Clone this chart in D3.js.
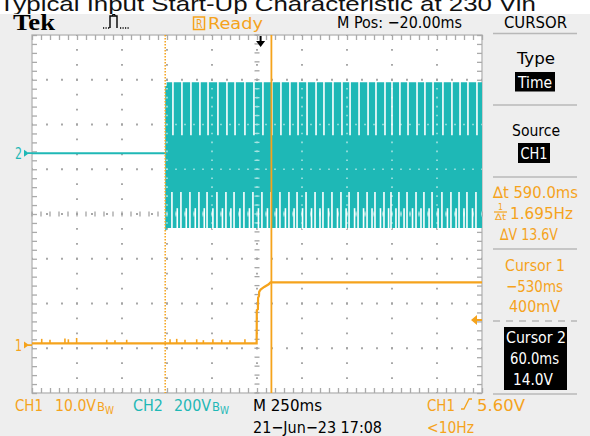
<!DOCTYPE html>
<html>
<head>
<meta charset="utf-8">
<script src="https://cdn.jsdelivr.net/npm/d3@7"></script>
<style>
  body { margin: 0; background: #fff; }
  svg { display: block; }
</style>
</head>
<body>
<svg id="chart"></svg>
<script>
const width = 590, height = 436;
const plot = {left: 32, right: 482, top: 35, bottom: 393};

// horizontal: M 250ms/div, M Pos -20ms -> screen spans -1270..1230 ms
const timeRange = [-1270, 1230];
const ch1PosDiv = -2.93;   // CH1 ground marker, divisions from centre
const ch2PosDiv = 1.36;    // CH2 ground marker
const ch1VoltsPerDiv = 10;
const ch2VoltsPerDiv = 200;

// CH1 (output), volts
const ch1Time = [-1270, -22, -21, -15, -14, -9, -8, 0, 20, 45, 55, 1230];
const ch1Volt = [0.4, 0.4, 7.8, 8.0, 10.6, 11.0, 11.9, 12.4, 13.0, 13.6, 14.0, 14.0];
const ch1GlitchTime = [-1216, -1170, -1087, -1068, -1022, -855, -809, -744, -503, -466, -420, -355, -318, -265, -216, -170, -87];
const ch1GlitchVolt = [1.0, 0.8, 1.1, 0.9, 1.2, 0.8, 0.7, 0.8, 0.9, 1.0, 0.8, 0.9, 0.7, 0.9, 0.8, 0.7, 0.9];

// CH2 (input AC), volts
const ch2IdleTime = [-1270, -530];
const ch2IdleVolt = [0, 0];
const ch2EnvTime = [-530, -522, 1230];
const ch2EnvTop = [300, 317, 317];
const ch2EnvBottom = [-345, -335, -335];
const ch2GapTime = [-487, -437, -387, -337, -292, -237, -187, -142, -87, -37, 13, 63, 113, 163, 208, 258,
  308, 352, 402, 452, 497, 547, 597, 641, 691, 730, 774, 819, 869, 913, 958, 1013, 1063, 1108, 1152, 1202];
const ch2GapShortTime = [-463, -413, -363, -313, -265, -212, -165, -115, -62, -12, 38, 88, 138, 186, 233, 283,
  330, 377, 427, 475, 522, 572, 619, 666, 711, 752, 797, 844, 891, 936, 986, 1038, 1086, 1130, 1177];
const ch2GapUpperEnd = 80;
const ch2GapLowerStart = -174;
const ch2GapShortStart = -246;

// cursors and trigger
const cursor1Time = -530;
const cursor2Time = 60;
const triggerTime = 0;
const triggerLevel = 5.6;

const orange = "#f5a31c";
const teal = "#1fb8b6";
const panelGrey = "#eeeeee";
const font = "'Liberation Sans Narrow', 'DejaVu Sans Condensed', 'Arial Narrow', sans-serif";

const svg = d3.select("#chart")
    .attr("width", width)
    .attr("height", height)
    .attr("viewBox", [0, 0, width, height]);

const x = d3.scaleLinear().domain(timeRange).range([plot.left, plot.right]);
const gx = d3.scaleLinear().domain([-5, 5]).range([plot.left, plot.right]);
const gy = d3.scaleLinear().domain([-4, 4]).range([plot.bottom, plot.top]);
const y1 = d3.scaleLinear()
    .domain([(-4 - ch1PosDiv) * ch1VoltsPerDiv, (4 - ch1PosDiv) * ch1VoltsPerDiv])
    .range([plot.bottom, plot.top]);
const y2 = d3.scaleLinear()
    .domain([(-4 - ch2PosDiv) * ch2VoltsPerDiv, (4 - ch2PosDiv) * ch2VoltsPerDiv])
    .range([plot.bottom, plot.top]);

// background panel
svg.append("rect").attr("width", width).attr("height", height).attr("fill", "#fff");
svg.append("rect").attr("y", 14).attr("width", width).attr("height", height - 14).attr("fill", panelGrey);

// screen
svg.append("rect")
    .attr("x", plot.left).attr("y", plot.top)
    .attr("width", plot.right - plot.left).attr("height", plot.bottom - plot.top)
    .attr("fill", "#fff").attr("stroke", "#bdbdbd").attr("stroke-width", 1.5);

const fifthsX = d3.range(-25, 26).map(i => i / 5);
const fifthsY = d3.range(-20, 21).map(i => i / 5);

function drawGrid(layer, color, opacity, stepX, stepY, dot) {
  const g = svg.append("g").attr("class", layer).attr("opacity", opacity);
  g.selectAll("line.v").data(d3.range(-4, 5)).join("line")
      .attr("x1", d => gx(d)).attr("x2", d => gx(d))
      .attr("y1", plot.top).attr("y2", plot.bottom)
      .attr("stroke", color).attr("stroke-width", dot)
      .attr("stroke-dasharray", `${dot} ${stepY - dot}`).attr("stroke-dashoffset", dot / 2);
  g.selectAll("line.h").data(d3.range(-3, 4)).join("line")
      .attr("y1", d => gy(d)).attr("y2", d => gy(d))
      .attr("x1", plot.left).attr("x2", plot.right)
      .attr("stroke", color).attr("stroke-width", dot)
      .attr("stroke-dasharray", `${dot} ${stepX - dot}`).attr("stroke-dashoffset", dot / 2);
  // centre axes with minor ticks
  g.selectAll("line.cy").data(fifthsY).join("line")
      .attr("x1", gx(0) - 2.5).attr("x2", gx(0) + 2.5)
      .attr("y1", d => gy(d)).attr("y2", d => gy(d))
      .attr("stroke", color).attr("stroke-width", 1.3);
  g.selectAll("line.cx").data(fifthsX).join("line")
      .attr("y1", gy(0) - 2.5).attr("y2", gy(0) + 2.5)
      .attr("x1", d => gx(d)).attr("x2", d => gx(d))
      .attr("stroke", color).attr("stroke-width", 1.3);
  return g;
}

drawGrid("grid-under", "#a4a4a4", 1, 15, 44.75 / 3, 1.9);

// border ticks through axes
const tickColor = "#aaaaaa";
function borderAxis(axis, tx, ty) {
  const a = svg.append("g").attr("transform", `translate(${tx},${ty})`).call(axis);
  a.select(".domain").remove();
  a.selectAll("text").remove();
  a.selectAll("line").attr("stroke", tickColor).attr("stroke-width", 1.3);
}
borderAxis(d3.axisBottom(gx).tickValues(fifthsX).tickSize(5).tickFormat(""), 0, plot.top);
borderAxis(d3.axisTop(gx).tickValues(fifthsX).tickSize(5).tickFormat(""), 0, plot.bottom);
borderAxis(d3.axisRight(gy).tickValues(fifthsY).tickSize(5).tickFormat(""), plot.left, 0);
borderAxis(d3.axisLeft(gy).tickValues(fifthsY).tickSize(5).tickFormat(""), plot.right, 0);

// CH2 trace
const idle = ch2IdleTime.map((t, i) => [t, ch2IdleVolt[i]]);
svg.append("path")
    .attr("d", d3.line().x(d => x(d[0])).y(d => y2(d[1]))(idle))
    .attr("fill", "none").attr("stroke", teal).attr("stroke-width", 2);

const env = ch2EnvTime.map((t, i) => ({t, top: ch2EnvTop[i], bottom: ch2EnvBottom[i]}));
svg.append("path")
    .attr("d", d3.area().curve(d3.curveStepAfter)
        .x(d => x(d.t)).y0(d => y2(d.bottom)).y1(d => y2(d.top))(env))
    .attr("fill", teal);

const gaps = svg.append("g").attr("stroke", "#fff").attr("stroke-width", 1.6);
gaps.selectAll("line.up").data(ch2GapTime).join("line")
    .attr("x1", d => x(d)).attr("x2", d => x(d))
    .attr("y1", y2(ch2EnvTop[1]) - 1).attr("y2", y2(ch2GapUpperEnd));
gaps.selectAll("line.lo").data(ch2GapTime).join("line")
    .attr("x1", d => x(d) - 1).attr("x2", d => x(d) - 1)
    .attr("y1", y2(ch2GapLowerStart)).attr("y2", y2(ch2EnvBottom[1]) + 1);
gaps.selectAll("line.sh").data(ch2GapShortTime).join("line")
    .attr("x1", d => x(d)).attr("x2", d => x(d))
    .attr("y1", y2(ch2GapShortStart)).attr("y2", y2(ch2EnvBottom[1]) + 1);

// grid shows through the trace (only where the band is)
svg.append("clipPath").attr("id", "band-clip").append("rect")
    .attr("x", x(ch2EnvTime[0])).attr("y", y2(ch2EnvTop[1]))
    .attr("width", plot.right - x(ch2EnvTime[0]))
    .attr("height", y2(ch2EnvBottom[1]) - y2(ch2EnvTop[1]));
drawGrid("grid-over", "#ffffff", 0.6, 9, 44.75 / 5, 1.6).attr("clip-path", "url(#band-clip)");

// CH1 trace
const ch1 = ch1Time.map((t, i) => [t, ch1Volt[i]]);
svg.append("path")
    .attr("d", d3.line().x(d => x(d[0])).y(d => y1(d[1]))(ch1))
    .attr("fill", "none").attr("stroke", orange).attr("stroke-width", 2.2);
svg.append("g").selectAll("line").data(ch1GlitchTime).join("line")
    .attr("x1", d => x(d)).attr("x2", d => x(d))
    .attr("y1", y1(0.4)).attr("y2", (d, i) => y1(0.4 + ch1GlitchVolt[i]))
    .attr("stroke", orange).attr("stroke-width", 1.6);

// cursors
svg.append("line")
    .attr("x1", x(cursor1Time)).attr("x2", x(cursor1Time))
    .attr("y1", plot.top).attr("y2", plot.bottom)
    .attr("stroke", orange).attr("stroke-width", 1.5).attr("stroke-dasharray", "1.5 1.5");
svg.append("line")
    .attr("x1", x(cursor2Time)).attr("x2", x(cursor2Time))
    .attr("y1", plot.top).attr("y2", plot.bottom)
    .attr("stroke", orange).attr("stroke-width", 1.8);

// trigger position marker
const tx = x(triggerTime);
svg.append("path")
    .attr("d", `M${tx - 1},36 h2 v5 h3.5 l-4.5,6 l-4.5,-6 h3.5 z`)
    .attr("fill", "#000");

// trigger level marker
const ty = y1(triggerLevel);
svg.append("path")
    .attr("d", `M${plot.right - 11},${ty} l6,-5 v4 h5 v2 h-5 v4 z`)
    .attr("fill", orange);

// channel ground markers
function groundMarker(label, yPos, color) {
  svg.append("text").attr("x", 15).attr("y", yPos + 5.5).text(label)
      .attr("fill", color).attr("font-family", font).attr("font-size", 16)
      .attr("textLength", 7).attr("lengthAdjust", "spacingAndGlyphs");
  svg.append("path")
      .attr("d", `M24,${yPos - 3.5} L29,${yPos} L24,${yPos + 3.5} Z M28,${yPos - 0.8} h4 v1.6 h-4 z`)
      .attr("fill", color);
}
groundMarker("2", y2(0), teal);
groundMarker("1", y1(0), orange);

// texts
function label(s, xPos, yPos, len, color, size, extra) {
  const t = svg.append("text").attr("x", xPos).attr("y", yPos)
      .attr("fill", color).attr("font-family", font).attr("font-size", size || 16)
      .text(s);
  if (len) t.attr("textLength", len).attr("lengthAdjust", "spacingAndGlyphs");
  if (extra) extra(t);
  return t;
}

label("Typical Input Start-Up Characteristic at 230 Vin", -1, 11, 537, "#111", 21,
    t => t.attr("font-family", "'Liberation Sans', Arial, sans-serif"));

// header
svg.append("rect").attr("x", 0).attr("y", 14).attr("width", width).attr("height", 20).attr("fill", panelGrey);
label("Tek", 13, 30, 42, "#000", 23, t => t.attr("font-family", "'Liberation Serif', 'DejaVu Serif', serif").attr("font-weight", "bold"));
svg.append("path")
    .attr("d", "M103,28h1.2 M105.5,28h1.2 M108,28h1.2 M110,28 V16 H117 V28 M120,28h1.2 M122.5,28h1.2 M125,28h1.2 M127.5,28h1.2")
    .attr("fill", "none").attr("stroke", "#000").attr("stroke-width", 1.4);
svg.append("path").attr("d", "M112.5,16 v-1.5 h2.5 v1.5").attr("fill", "none").attr("stroke", "#000").attr("stroke-width", 1);
svg.append("rect").attr("x", 193.5).attr("y", 17).attr("width", 11).attr("height", 12.5)
    .attr("fill", "none").attr("stroke", orange).attr("stroke-width", 1.5);
label("R", 196, 27.5, 6.5, orange, 12);
label("Ready", 208, 29, 55, orange, 16);
label("M Pos: \u221220.00ms", 337, 28, 125, "#000", 16);
label("CURSOR", 504, 28, 63, "#000", 16);

// right menu
const sep = svg.append("g").attr("stroke", "#b8b8b8").attr("stroke-width", 1.5);
[33.5, 105, 177, 249, 394].forEach(yy =>
  sep.append("line").attr("x1", 493).attr("x2", 577).attr("y1", yy).attr("y2", yy));
sep.append("line").attr("x1", 493).attr("x2", 577).attr("y1", 321).attr("y2", 321)
    .attr("stroke-dasharray", "7 6");

label("Type", 517, 63.5, 38, "#000", 16);
svg.append("rect").attr("x", 515).attr("y", 72).attr("width", 40).attr("height", 19.5).attr("fill", "#000");
label("Time", 518, 87.5, 34, "#fff", 16);
label("Source", 512, 136, 48, "#000", 16);
svg.append("rect").attr("x", 518).attr("y", 143).attr("width", 32).attr("height", 20).attr("fill", "#000");
label("CH1", 520.5, 159, 27, "#fff", 16);

label("\u2206t 590.0ms", 493, 198, 85, orange, 16);
label("1", 498, 210, 5, orange, 9);
svg.append("line").attr("x1", 494).attr("x2", 507).attr("y1", 212).attr("y2", 212)
    .attr("stroke", orange).attr("stroke-width", 1.2);
label("\u2206t", 495, 220, 11, orange, 9);
label("1.695Hz", 510, 219, 63, orange, 16);
label("\u2206V 13.6V", 500, 240, 58, orange, 16);

label("Cursor 1", 505, 271, 60, orange, 16);
label("\u2212530ms", 506, 292, 57, orange, 16);
label("400mV", 509, 312, 51, orange, 16);

svg.append("rect").attr("x", 504).attr("y", 327).attr("width", 63).attr("height", 63).attr("fill", "#000");
label("Cursor 2", 506, 343, 60, "#fff", 16);
label("60.0ms", 510, 364, 49, "#fff", 16);
label("14.0V", 513, 385, 40, "#fff", 16);

// status line
function bwLabel(value, xPos, len, color) {
  label(value, xPos, 410.5, len, color, 16);
  label("B", xPos + len + 1, 410.5, 8, color, 13);
  label("W", xPos + len + 9, 414, 9, color, 11);
}
label("CH1", 15, 410.5, 28, orange, 16);
bwLabel("10.0V", 55, 41, orange);
label("CH2", 133, 410.5, 30, teal, 16);
bwLabel("200V", 174, 37, teal);
label("M 250ms", 253, 410.5, 69, "#000", 16);
label("21\u2212Jun\u221223 17:08", 253, 433, 129, "#000", 16);
label("CH1", 427, 410.5, 28, orange, 16);
svg.append("path").attr("d", "M461,409 h3 l5,-10 h3")
    .attr("fill", "none").attr("stroke", orange).attr("stroke-width", 1.3);
label("5.60V", 477, 410.5, 48, orange, 16);
label("<10Hz", 427, 433, 47, orange, 16);
</script>
</body>
</html>
